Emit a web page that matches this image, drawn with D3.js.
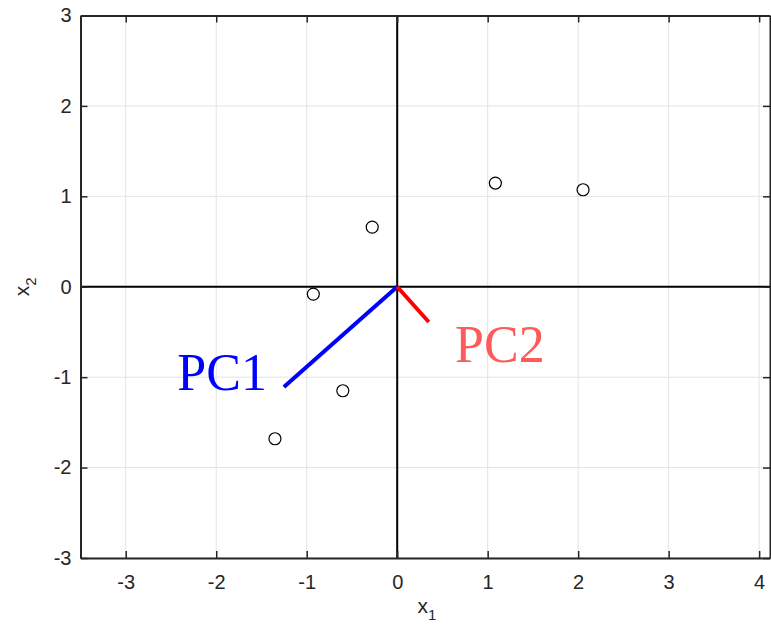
<!DOCTYPE html>
<html>
<head>
<meta charset="utf-8">
<script src="https://cdn.jsdelivr.net/npm/d3@7"></script>
<style>
  body { margin: 0; background: #fff; }
  svg { display: block; }
</style>
</head>
<body>
<div id="chart"></div>
<script>
// centred sample points
const pointsX = [1.085, 2.054, -0.276, -0.927, -0.601, -1.351];
const pointsY = [1.147, 1.073, 0.660, -0.081, -1.150, -1.681];

// principal component directions (end of each segment, start at origin)
const pcNames = ["PC1", "PC2"];
const pcEndX = [-1.252, 0.349];
const pcEndY = [-1.109, -0.390];
const pcColors = ["#0000ff", "#ff0000"];
const pcLabelColors = ["#0000ff", "#ff5a5a"];
// where the labels sit, in data units
const pcLabelX = [-2.43, 0.64];
const pcLabelY = [-1.139, -0.829];

const xTicks = [-3, -2, -1, 0, 1, 2, 3, 4];
const yTicks = [-3, -2, -1, 0, 1, 2, 3];

const width = 771;
const height = 631;
const margin = { top: 15.5, right: 1, bottom: 73, left: 80.5 };

const svg = d3.select("#chart")
    .append("svg")
    .attr("width", width)
    .attr("height", height);

const x = d3.scaleLinear()
    .domain([-3.5, 4.12])
    .range([margin.left, width - margin.right]);

const y = d3.scaleLinear()
    .domain([-3, 3])
    .range([height - margin.bottom, margin.top]);

const tickFont = "'Liberation Sans', Arial, sans-serif";
const plainNum = d => String(d); // hyphen minus, no decimals

// grid
svg.append("g")
    .selectAll("line")
    .data(xTicks)
    .join("line")
    .attr("x1", d => x(d)).attr("x2", d => x(d))
    .attr("y1", y(-3)).attr("y2", y(3))
    .attr("stroke", "#e3e3e3")
    .attr("stroke-width", 1);

svg.append("g")
    .selectAll("line")
    .data(yTicks)
    .join("line")
    .attr("x1", x.range()[0]).attr("x2", x.range()[1])
    .attr("y1", d => y(d)).attr("y2", d => y(d))
    .attr("stroke", "#e3e3e3")
    .attr("stroke-width", 1);

// zero lines
svg.append("line")
    .attr("x1", x(0)).attr("x2", x(0))
    .attr("y1", y(-3)).attr("y2", y(3))
    .attr("stroke", "#000").attr("stroke-width", 2);
svg.append("line")
    .attr("x1", x.range()[0]).attr("x2", x.range()[1])
    .attr("y1", y(0)).attr("y2", y(0))
    .attr("stroke", "#000").attr("stroke-width", 2);

// sample points
svg.append("g")
    .selectAll("circle")
    .data(pointsX.map((d, i) => [d, pointsY[i]]))
    .join("circle")
    .attr("cx", d => x(d[0]))
    .attr("cy", d => y(d[1]))
    .attr("r", 6)
    .attr("fill", "none")
    .attr("stroke", "#000")
    .attr("stroke-width", 1.2);

// PC segments
svg.append("g")
    .selectAll("line")
    .data(pcNames)
    .join("line")
    .attr("x1", x(0)).attr("y1", y(0))
    .attr("x2", (d, i) => x(pcEndX[i]))
    .attr("y2", (d, i) => y(pcEndY[i]))
    .attr("stroke", (d, i) => pcColors[i])
    .attr("stroke-width", 4);

svg.append("g")
    .selectAll("text")
    .data(pcNames)
    .join("text")
    .attr("x", (d, i) => x(pcLabelX[i]))
    .attr("y", (d, i) => y(pcLabelY[i]))
    .attr("fill", (d, i) => pcLabelColors[i])
    .attr("font-family", "'Liberation Serif', 'Times New Roman', serif")
    .attr("font-size", 52)
    .text(d => d);

// axes (ticks point inwards, MATLAB box style)
function styleAxis(g) {
    g.select(".domain").attr("stroke", "#262626").attr("stroke-width", 2);
    g.selectAll(".tick line").attr("stroke", "#262626").attr("stroke-width", 1.5);
    g.selectAll(".tick text")
        .attr("fill", "#262626")
        .attr("font-family", tickFont)
        .attr("font-size", 20);
}

svg.append("g")
    .attr("transform", `translate(0,${y(-3)})`)
    .call(d3.axisBottom(x).tickValues(xTicks).tickFormat(plainNum)
        .tickSizeInner(-7).tickSizeOuter(0).tickPadding(16.5))
    .call(styleAxis);

svg.append("g")
    .attr("transform", `translate(0,${y(3)})`)
    .call(d3.axisTop(x).tickValues(xTicks).tickFormat("").tickSizeInner(-7).tickSizeOuter(0))
    .call(styleAxis);

svg.append("g")
    .attr("transform", `translate(${x.range()[0]},0)`)
    .call(d3.axisLeft(y).tickValues(yTicks).tickFormat(plainNum)
        .tickSizeInner(-7).tickSizeOuter(0).tickPadding(9))
    .call(styleAxis);

svg.append("g")
    .attr("transform", `translate(${x.range()[1]},0)`)
    .call(d3.axisRight(y).tickValues(yTicks).tickFormat("").tickSizeInner(-7).tickSizeOuter(0))
    .call(styleAxis);

// axis titles
const xTitle = svg.append("text")
    .attr("x", 427)
    .attr("y", 613)
    .attr("text-anchor", "middle")
    .attr("fill", "#262626")
    .attr("font-family", tickFont)
    .attr("font-size", 21);
xTitle.append("tspan").text("x");
xTitle.append("tspan").attr("dy", 7).attr("font-size", 15).text("1");

const yTitle = svg.append("text")
    .attr("transform", `translate(29,${y(0)}) rotate(-90)`)
    .attr("text-anchor", "middle")
    .attr("fill", "#262626")
    .attr("font-family", tickFont)
    .attr("font-size", 21);
yTitle.append("tspan").text("x");
yTitle.append("tspan").attr("dy", 7).attr("font-size", 15).text("2");
</script>
</body>
</html>
